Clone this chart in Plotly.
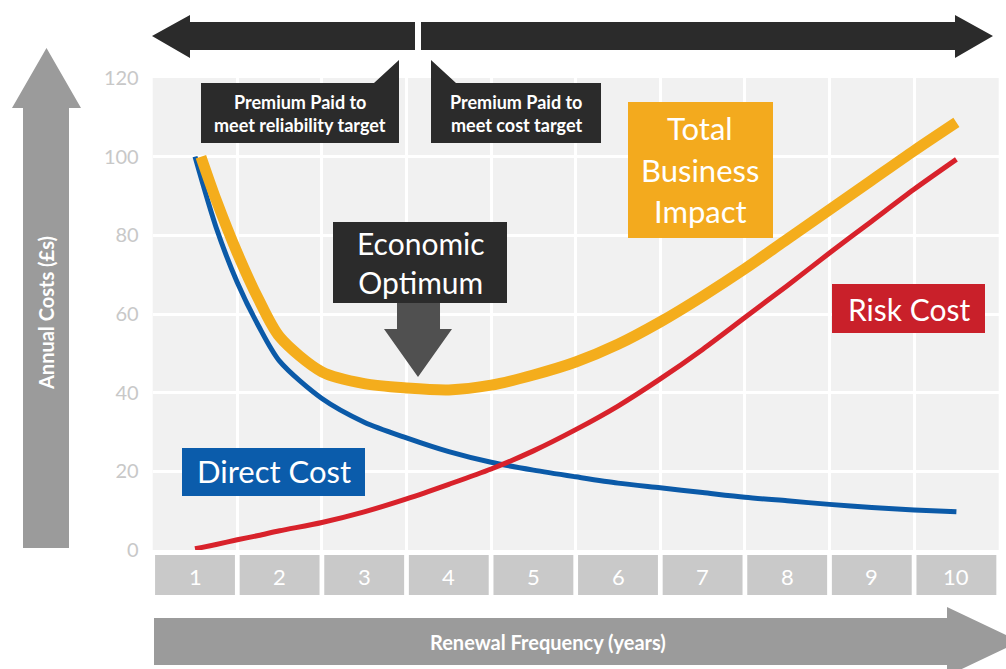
import plotly.graph_objects as go

# ---------------- data ----------------
CATEGORIES = [1, 2, 3, 4, 5, 6, 7, 8, 9, 10]
CATEGORY_LABELS = ["1", "2", "3", "4", "5", "6", "7", "8", "9", "10"]
Y_TICKS = [0, 20, 40, 60, 80, 100, 120]
Y_TICK_LABELS = ["0", "20", "40", "60", "80", "100", "120"]

X_POS = [1, 1.25, 1.5, 1.75, 2, 2.5, 3, 3.5, 4, 4.5, 5, 5.5, 6, 6.5, 7, 7.5, 8, 8.5, 9, 9.5, 10]
DIRECT_COST = [100, 82, 68, 57, 48, 38.5, 32.5, 28.5, 25, 22.3, 20.3, 18.6, 17.0, 15.8, 14.6, 13.4,
               12.5, 11.6, 10.8, 10.2, 9.7]
RISK_COST = [0.3, 1.4, 2.6, 3.7, 4.9, 7.0, 9.7, 13.0, 16.7, 20.6, 25.2, 30.6, 36.6, 43.5, 51.0, 59.1,
             67.2, 75.5, 83.6, 91.7, 99.3]
TOTAL_X = [1.07, 1.25, 1.5, 1.75, 2, 2.5, 3, 3.5, 4, 4.5, 5, 5.5, 6, 6.5, 7, 7.5, 8, 8.5, 9, 9.5, 10]
TOTAL_IMPACT = [100, 89, 75.5, 63.8, 54.2, 45.3, 42.3, 41.2, 40.7, 41.9, 44.5, 47.8, 52.3, 58.0, 64.5,
                71.5, 79.0, 86.5, 94.0, 101.5, 108.7]

# ---------------- styling ----------------
W, H = 1006, 669
FONT = "Lato"
DARK = "#2b2b2b"
BLUE = "#0b5aa8"
RED = "#d8222b"
YELLOW = "#f4ad1c"


def X(px):
    return px / W


def Y(py):
    return 1 - py / H


def path(points):
    s = "M " + " L ".join(f"{X(a):.5f},{Y(b):.5f}" for a, b in points) + " Z"
    return s


fig = go.Figure()

fig.add_trace(go.Scatter(x=X_POS, y=DIRECT_COST, mode="lines", name="Direct Cost",
                         line=dict(color=BLUE, width=5, shape="spline", smoothing=0.8)))
fig.add_trace(go.Scatter(x=X_POS, y=RISK_COST, mode="lines", name="Risk Cost",
                         line=dict(color=RED, width=5, shape="spline", smoothing=0.8)))
fig.add_trace(go.Scatter(x=TOTAL_X, y=TOTAL_IMPACT, mode="lines", name="Total Business Impact",
                         line=dict(color=YELLOW, width=11, shape="spline", smoothing=0.8)))

shapes = []
# top double arrow
shapes.append(dict(type="path", xref="paper", yref="paper", line=dict(width=0), fillcolor=DARK,
                   path=path([(152, 36), (190, 15), (190, 22), (415, 22), (415, 50), (190, 50), (190, 58)])))
shapes.append(dict(type="path", xref="paper", yref="paper", line=dict(width=0), fillcolor=DARK,
                   path=path([(421, 22), (955, 22), (955, 15), (993, 36), (955, 58), (955, 50), (421, 50)])))
# callout boxes
shapes.append(dict(type="path", xref="paper", yref="paper", line=dict(width=0), fillcolor=DARK,
                   path=path([(201, 83), (374, 83), (399, 60), (399, 143), (201, 143)])))
shapes.append(dict(type="path", xref="paper", yref="paper", line=dict(width=0), fillcolor=DARK,
                   path=path([(431, 60), (456, 83), (601, 83), (601, 143), (431, 143)])))
# economic optimum box + down arrow
shapes.append(dict(type="rect", xref="paper", yref="paper", line=dict(width=0), fillcolor=DARK,
                   x0=X(333), x1=X(507), y0=Y(303), y1=Y(222)))
shapes.append(dict(type="path", xref="paper", yref="paper", line=dict(width=0), fillcolor="#505050",
                   path=path([(397, 303), (440, 303), (440, 329), (452, 329), (418, 377), (384, 329), (397, 329)])))
# label boxes
shapes.append(dict(type="rect", xref="paper", yref="paper", line=dict(width=0), fillcolor="#f3aa1e",
                   x0=X(628), x1=X(773), y0=Y(238), y1=Y(102)))
shapes.append(dict(type="rect", xref="paper", yref="paper", line=dict(width=0), fillcolor="#c9202a",
                   x0=X(832), x1=X(985), y0=Y(333), y1=Y(284)))
shapes.append(dict(type="rect", xref="paper", yref="paper", line=dict(width=0), fillcolor="#0b5cab",
                   x0=X(182), x1=X(365), y0=Y(496), y1=Y(448)))
# y axis arrow
shapes.append(dict(type="path", xref="paper", yref="paper", line=dict(width=0), fillcolor="#9b9b9b",
                   path=path([(23, 548), (23, 108), (12, 108), (46.5, 48), (81, 108), (69, 108), (69, 548)])))
# x axis arrow
shapes.append(dict(type="path", xref="paper", yref="paper", line=dict(width=0), fillcolor="#9b9b9b",
                   path=path([(154, 618), (947, 618), (947, 607), (1020, 641.5), (947, 676), (947, 665), (154, 665)])))
# category boxes
for c in CATEGORIES:
    shapes.append(dict(type="rect", xref="x", yref="paper", line=dict(width=0), fillcolor="#c9c9c9",
                       x0=c - 0.472, x1=c + 0.472, y0=Y(595), y1=Y(555), layer="above"))

annotations = []


def txt(text, px, py, size, color="white", bold=False, angle=0):
    t = f"<b>{text}</b>" if bold else text
    annotations.append(dict(text=t, x=X(px), y=Y(py), xref="paper", yref="paper", showarrow=False,
                            xanchor="center", yanchor="middle", textangle=angle,
                            font=dict(family=FONT, size=size, color=color)))


txt("Premium Paid to", 300, 102, 18, bold=True)
txt("meet reliability target", 300, 125, 18, bold=True)
txt("Premium Paid to", 516, 102, 18, bold=True)
txt("meet cost target", 516, 125, 18, bold=True)
txt("Economic<br>Optimum", 421, 263, 30)
txt("Total", 700, 128, 31)
txt("Business", 700, 170, 31)
txt("Impact", 700, 211, 31)
txt("Risk Cost", 909, 309, 30)
txt("Direct Cost", 274, 471, 31)
txt("Annual Costs (£s)", 46, 313, 20, bold=True, angle=-90)
txt("Renewal Frequency (years)", 548, 642, 20, bold=True)

for c, lab in zip(CATEGORIES, CATEGORY_LABELS):
    annotations.append(dict(text=lab, x=c, y=Y(576), xref="x", yref="paper", showarrow=False,
                            xanchor="center", yanchor="middle",
                            font=dict(family=FONT, size=22, color="white")))

fig.update_layout(
    width=W, height=H, autosize=False,
    margin=dict(l=0, r=0, t=0, b=0, pad=0, autoexpand=False),
    paper_bgcolor="white", plot_bgcolor="#f1f1f1",
    showlegend=False,
    shapes=shapes, annotations=annotations,
    xaxis=dict(domain=[152.7 / W, 998.7 / W], range=[0.5, 10.5], automargin=False,
               tickvals=[c + 0.5 for c in CATEGORIES[:-1]], showticklabels=False,
               showgrid=True, gridcolor="white", gridwidth=3, zeroline=False, showline=False, ticks=""),
    yaxis=dict(domain=[1 - 550 / H, 1 - 78 / H], range=[0, 120], automargin=False,
               tickvals=Y_TICKS, ticktext=Y_TICK_LABELS,
               showgrid=True, gridcolor="white", gridwidth=3, zeroline=False, showline=False,
               ticks="outside", ticklen=9, tickcolor="rgba(0,0,0,0)",
               tickfont=dict(family=FONT, size=20, color="#c8c8c8")),
)

fig.write_html("out.html", config={"displayModeBar": False},
               post_script="document.body.style.margin='0px';")
